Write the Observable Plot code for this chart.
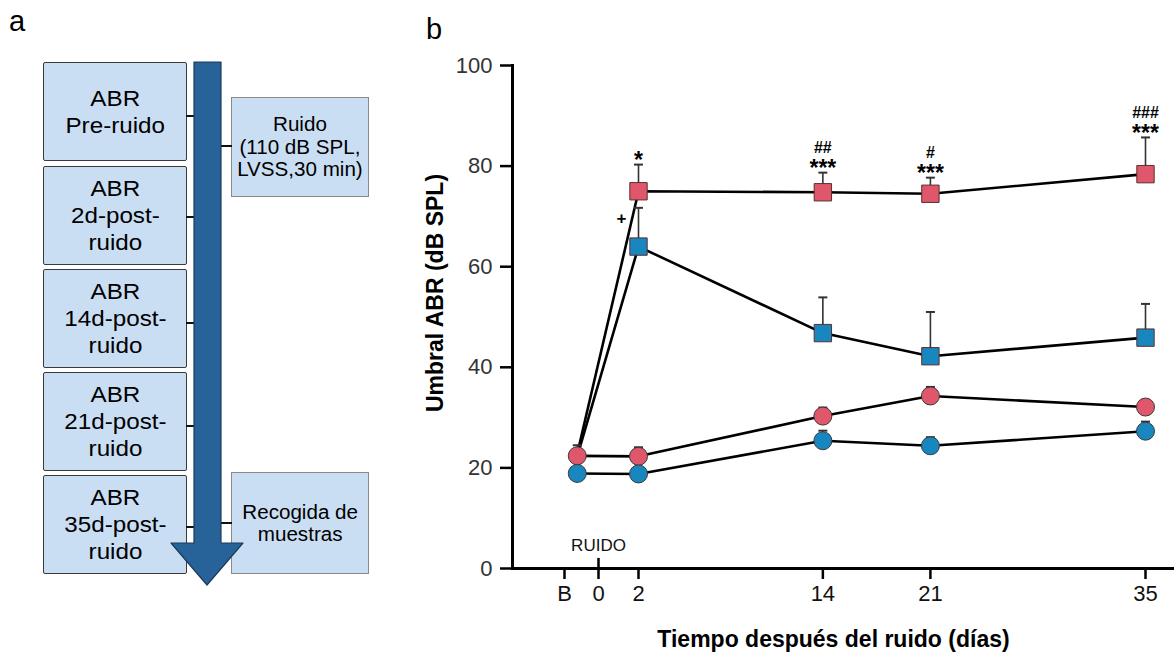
<!DOCTYPE html>
<html>
<head>
<meta charset="utf-8">
<script src="https://cdn.jsdelivr.net/npm/d3@7"></script>
<script src="https://cdn.jsdelivr.net/npm/@observablehq/plot@0.6"></script>
<style>
  html, body { margin: 0; padding: 0; background: #fff; }
  body { width: 1174px; height: 656px; position: relative; overflow: hidden;
         font-family: "Liberation Sans", Arial, Helvetica, sans-serif; color: #000; }
  .panel-label { position: absolute; font-size: 29px; line-height: 1; }
  .box { position: absolute; box-sizing: border-box; background: #CADEF3;
         display: flex; align-items: center; justify-content: center; text-align: center; }
  .box.left { border: 1.5px solid #3a3a3a; border-radius: 2px; font-size: 22px; line-height: 27px; }
  .box.right { border: 1.5px solid #8a8a8a; font-size: 20px; line-height: 22.5px; }
  .box.left span { display: inline-block; transform: scaleX(1.1); }
  .box.right span { display: inline-block; transform: scaleX(1.03); }
  #diagram { position: absolute; left: 0; top: 0; z-index: 2; }
  #boxes { position: absolute; left: 0; top: 0; z-index: 1; }
  #chart { position: absolute; left: 400px; top: 0; }
</style>
</head>
<body>
<div class="panel-label" style="left:9px;top:7px;">a</div>
<div class="panel-label" style="left:426px;top:15px;">b</div>

<div id="boxes"></div>
<svg id="diagram" width="400" height="656"></svg>
<div id="chart"></div>

<script>
// ---------- Panel a: timeline diagram ----------
const leftBoxTexts = [
  ["ABR", "Pre-ruido"],
  ["ABR", "2d-post-", "ruido"],
  ["ABR", "14d-post-", "ruido"],
  ["ABR", "21d-post-", "ruido"],
  ["ABR", "35d-post-", "ruido"]
];
const rightBoxTexts = [
  ["Ruido", "(110 dB SPL,", "LVSS,30 min)"],
  ["Recogida de", "muestras"]
];

const leftTops = [62, 166, 269, 372, 475];
const rightTops = [97, 472];
const boxesDiv = document.getElementById("boxes");
leftBoxTexts.forEach((lines, i) => {
  const d = document.createElement("div");
  d.className = "box left";
  d.style.left = "43px"; d.style.top = leftTops[i] + "px";
  d.style.width = "144px"; d.style.height = "99px";
  d.innerHTML = "<span>" + lines.join("<br>") + "</span>";
  boxesDiv.appendChild(d);
});
rightBoxTexts.forEach((lines, i) => {
  const d = document.createElement("div");
  d.className = "box right";
  d.style.left = "231px"; d.style.top = rightTops[i] + "px";
  d.style.width = "138px"; d.style.height = (i === 0 ? 100 : 102) + "px";
  d.innerHTML = "<span>" + lines.join("<br>") + "</span>";
  boxesDiv.appendChild(d);
});

const svgA = d3.select("#diagram");
// connectors
const leftConnY = [116, 217, 323, 426, 527];
leftConnY.forEach(y => svgA.append("line").attr("x1", 186).attr("x2", 195).attr("y1", y).attr("y2", y)
  .attr("stroke", "#111").attr("stroke-width", 2));
[146, 523].forEach(y => svgA.append("line").attr("x1", 220).attr("x2", 232).attr("y1", y).attr("y2", y)
  .attr("stroke", "#111").attr("stroke-width", 2));
// arrow
svgA.append("path")
  .attr("d", "M194,62 L221,62 L221,543 L243,543 L207,585 L171,543 L194,543 Z")
  .attr("fill", "#276398").attr("stroke", "#1b3a5c").attr("stroke-width", 1.2)
  .attr("stroke-linejoin", "round");

// ---------- Panel b: ABR thresholds ----------
const days = ["B", 2, 14, 21, 35];
const dayX = [-1.25, 2, 14, 21, 35];           // x position (days) of each measurement
const xTickValues = [-2, 0, 2, 14, 21, 35];
const xTickLabels = ["B", "0", "2", "14", "21", "35"];
const yTickValues = [0, 20, 40, 60, 80, 100];

// series: mean and SEM
const redSquare  = [22.8, 75.0, 74.8, 74.5, 78.4];
const redSquareErr  = [0, 5.3, 3.9, 3.2, 7.3];
const blueSquare = [22.3, 64.0, 46.8, 42.2, 45.9];
const blueSquareErr = [0, 7.7, 7.1, 8.8, 6.7];
const redCircle  = [22.4, 22.3, 30.3, 34.3, 32.1];
const redCircleErr  = [2.1, 1.8, 1.7, 1.8, 1.4];
const blueCircle = [18.9, 18.8, 25.4, 24.4, 27.3];
const blueCircleErr = [0, 0.4, 2.0, 1.7, 1.9];

// significance annotations
const sigStars   = ["", "*", "***", "***", "***"];
const sigHashes  = ["", "", "##", "#", "###"];
const sigPlus    = ["", "+", "", "", ""];

const RED = "#E0566A", BLUE = "#1886BF";
const seriesDefs = [
  {name: "redSquare", values: redSquare, err: redSquareErr, color: RED, shape: "square"},
  {name: "blueSquare", values: blueSquare, err: blueSquareErr, color: BLUE, shape: "square"},
  {name: "redCircle", values: redCircle, err: redCircleErr, color: RED, shape: "circle"},
  {name: "blueCircle", values: blueCircle, err: blueCircleErr, color: BLUE, shape: "circle"}
];
const rows = seriesDefs.flatMap(s => days.map((d, i) => ({
  series: s.name, day: d, x: dayX[i], value: s.values[i], err: s.err[i],
  top: s.values[i] + s.err[i], color: s.color, shape: s.shape, i
})));
const errRows = rows.filter(r => r.err > 0);
const squares = rows.filter(r => r.shape === "square" && r.day !== "B");
const circles = rows.filter(r => r.shape === "circle");
const redSqRows = rows.filter(r => r.series === "redSquare");
const blueSqRows = rows.filter(r => r.series === "blueSquare");

const capSymbol = { draw(ctx) { ctx.moveTo(-4.5, 0); ctx.lineTo(4.5, 0); } };

const chart = Plot.plot({
  width: 774,
  height: 656,
  marginLeft: 112,
  marginRight: 0,
  marginTop: 65,
  marginBottom: 88,
  style: { fontFamily: "'Liberation Sans', Arial, Helvetica, sans-serif", background: "transparent", overflow: "visible" },
  x: { type: "linear", domain: [-2, 0, 2, 35], range: [164, 198, 238, 745] },
  y: { domain: [0, 100] },
  marks: [
    Plot.axisY({ ticks: yTickValues, tickSize: 12, tickPadding: 8, fontSize: 22, strokeWidth: 2.5,
                 stroke: "#000", fill: "#333", label: null }),
    Plot.axisX({ ticks: xTickValues, tickFormat: d => xTickLabels[xTickValues.indexOf(d)],
                 tickSize: 11, tickPadding: 6, fontSize: 22, strokeWidth: 2.5,
                 stroke: "#000", fill: "#111", label: null }),
    Plot.frame({ anchor: "left", strokeWidth: 3, stroke: "#000" }),
    Plot.ruleY([0], { strokeWidth: 3, stroke: "#000" }),
    Plot.ruleX([0], { y1: 0, y2: 2, strokeWidth: 2.5, stroke: "#000" }),
    Plot.text(["RUIDO"], { x: 0, y: 0, dy: -23, fontSize: 17, fill: "#111" }),
    Plot.text(["Umbral ABR (dB SPL)"], { frameAnchor: "left", textAnchor: "middle", rotate: -90, dx: -77, dy: -24,
                 fontSize: 23, fontWeight: "bold", fill: "#000" }),
    Plot.text(["Tiempo después del ruido (días)"], { frameAnchor: "bottom", dx: -10, dy: 78,
                 fontSize: 23, fontWeight: "bold", fill: "#000" }),
    Plot.line(rows, { x: "x", y: "value", z: "series", stroke: "#000", strokeWidth: 2.6 }),
    Plot.ruleX(errRows, { x: "x", y1: "value", y2: "top", stroke: "#333", strokeWidth: 1.6 }),
    Plot.dot(errRows, { x: "x", y: "top", symbol: capSymbol, r: 4, stroke: "#333", strokeWidth: 2 }),
    Plot.dot(squares, { x: "x", y: "value", symbol: "square", r: 9.8, fill: "color",
                 stroke: "#5a3030", strokeWidth: 1 }),
    Plot.dot(circles, { x: "x", y: "value", r: 9, fill: "color", stroke: "#3a3a3a", strokeWidth: 1 }),
    Plot.text(redSqRows, { x: "x", y: "top", text: d => sigStars[d.i], dy: -4,
                 fontSize: 23, fontWeight: "bold", fill: "#000" }),
    Plot.text(redSqRows, { x: "x", y: "top", text: d => sigHashes[d.i], dy: -25,
                 fontSize: 16, fontWeight: "bold", fill: "#000" }),
    Plot.text(blueSqRows, { x: "x", y: "top", text: d => sigPlus[d.i], dx: -17, dy: 11,
                 fontSize: 17, fontWeight: "bold", fill: "#000" })
  ]
});
document.getElementById("chart").appendChild(chart);
</script>
</body>
</html>
